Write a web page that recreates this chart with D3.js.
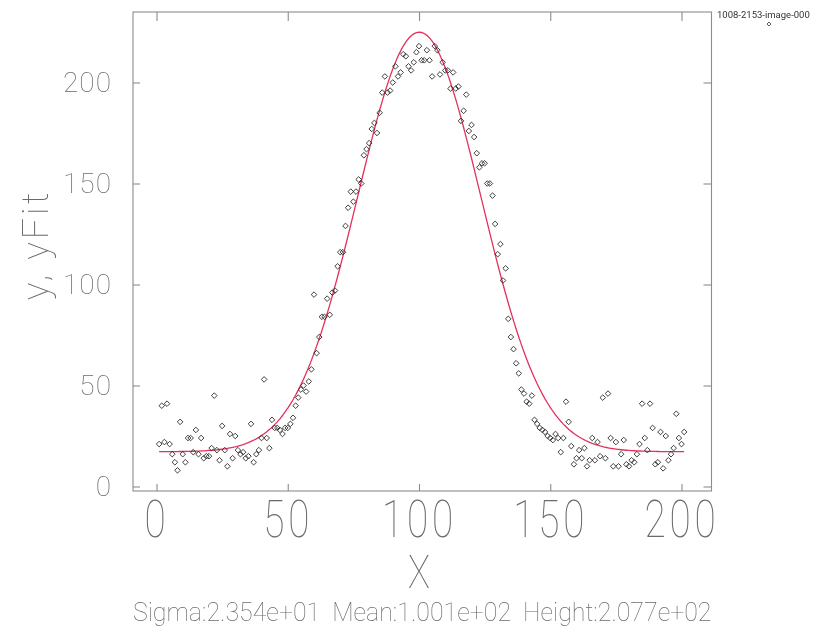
<!DOCTYPE html>
<html>
<head>
<meta charset="utf-8">
<script src="https://cdn.jsdelivr.net/npm/d3@7"></script>
<style>
  html, body { margin: 0; padding: 0; background: #ffffff; }
  svg { display: block; }
  .lbl { font-family: Roboto, "DejaVu Sans", sans-serif; font-weight: 100; fill: #6a6a6a; }
  /* neutral grey text, no coloured edge fringes */
  .txt { filter: grayscale(1); }
</style>
</head>
<body>
<svg id="chart" width="821" height="634"></svg>
<script>
// Observed counts, one per integer x starting at xFirst
const xFirst = 1;
const yObserved = [
  21, 40, 22, 41, 21, 16, 12,  8, 32, 16,
  12, 24, 24, 17, 28, 16, 24, 14, 15, 15,
  19, 45, 18, 13, 30, 18, 10, 26, 14, 25,
  18, 16, 17, 14, 15, 31, 12, 16, 18, 24,
  53, 24, 19, 33, 29, 29, 28, 26, 29, 29,
  31, 34, 40, 44, 48, 50, 47, 52, 58, 95,
  66, 74, 84, 84, 93, 85, 96, 97, 109, 116,
  116, 129, 138, 146, 141, 146, 152, 150, 164, 167,
  170, 177, 180, 175, 185, 195, 203, 195, 196, 200,
  208, 203, 205, 214, 213, 208, 206, 210, 215, 218,
  211, 211, 216, 211, 203, 218, 216, 204, 210, 206,
  206, 197, 205, 197, 198, 181, 186, 194, 176, 179,
  173, 165, 158, 160, 160, 150, 150, 144, 130, 115,
  120, 102, 108, 83, 74, 68, 61, 56, 48, 46,
  42, 41, 45, 33, 31, 29, 28, 27, 25, 24,
  23, 26, 24, 17, 24, 42, 32, 20, 11, 14,
  18, 14, 19, 10, 13, 24, 13, 22, 15, 44,
  14, 46, 24, 10, 22, 10, 16, 23, 11, 10,
  13, 12, 16, 21, 41, 24, 18, 41, 29, 11,
  12, 27, 9, 25, 13, 16, 19, 36, 24, 21,
  27
];

// Gaussian fit parameters (as printed under the chart) plus constant background
const fitSigma = 23.54;
const fitMean = 100.1;
const fitHeight = 207.7;
const fitBackground = 17.2;

const xTickValues = [0, 50, 100, 150, 200];
const yTickValues = [0, 50, 100, 150, 200];

const xTitle = "X";
const yTitle = "y, yFit";
const fitCaption = "Sigma:2.354e+01  Mean:1.001e+02  Height:2.077e+02";
const sourceTag = "1008-2153-image-000";

// ---- layout ----
const frame = { left: 133, right: 711.5, top: 12, bottom: 491 };
const axisGrey = "#8c8c8c";

const x = d3.scaleLinear().domain([0, 200]).range([156.5, 681.5]);
const y = d3.scaleLinear().domain([0, 200]).range([486.5, 82.5]);

const svg = d3.select("#chart");
svg.append("rect").attr("width", 821).attr("height", 634).attr("fill", "#ffffff");

const points = yObserved.map((v, i) => ({ x: xFirst + i, y: v }));
const gauss = xv => fitBackground + fitHeight * Math.exp(-((xv - fitMean) ** 2) / (2 * fitSigma * fitSigma));
const fitPoints = points.map(p => ({ x: p.x, y: gauss(p.x) }));

// plot frame
svg.append("rect")
  .attr("x", frame.left).attr("y", frame.top)
  .attr("width", frame.right - frame.left).attr("height", frame.bottom - frame.top)
  .attr("fill", "none").attr("stroke", axisGrey).attr("stroke-width", 1.1);

function styleAxis(g) {
  g.select(".domain").remove();
  g.selectAll(".tick line").attr("stroke", axisGrey).attr("stroke-width", 1.1);
}

// bottom axis with labels (tall, narrow vector-style digits)
const gx = svg.append("g")
  .attr("transform", `translate(0,${frame.bottom})`)
  .call(d3.axisBottom(x).tickValues(xTickValues).tickSize(-7).tickFormat(d3.format("d")))
  .call(styleAxis);
gx.selectAll(".tick text")
  .attr("class", "lbl txt")
  .attr("y", 46).attr("dy", 0)
  .attr("font-size", 51)
  .attr("transform", "scale(0.76,1)")
  .style("letter-spacing", "5px");

// top axis, ticks only
svg.append("g")
  .attr("transform", `translate(0,${frame.top})`)
  .call(d3.axisTop(x).tickValues(xTickValues).tickSize(-9).tickFormat(""))
  .call(styleAxis);

// left axis with labels
const gy = svg.append("g")
  .attr("transform", `translate(${frame.left},0)`)
  .call(d3.axisLeft(y).tickValues(yTickValues).tickSize(-7).tickFormat(d3.format("d")))
  .call(styleAxis);
gy.selectAll(".tick text")
  .attr("class", "lbl txt")
  .attr("x", -21).attr("dy", 0).attr("y", 9)
  .attr("font-size", 28)
  .style("letter-spacing", "1px");

// right axis, ticks only
svg.append("g")
  .attr("transform", `translate(${frame.right},0)`)
  .call(d3.axisRight(y).tickValues(yTickValues).tickSize(-8).tickFormat(""))
  .call(styleAxis);

// fitted curve
svg.append("path")
  .datum(fitPoints)
  .attr("fill", "none")
  .attr("stroke", "#e6305c")
  .attr("stroke-width", 1.3)
  .attr("d", d3.line().x(d => x(d.x)).y(d => y(d.y)));

// observed values as open diamonds
const diamond = "M0,-2.8L2.8,0L0,2.8L-2.8,0Z";
svg.append("g")
  .selectAll("path")
  .data(points)
  .join("path")
  .attr("d", diamond)
  .attr("transform", d => `translate(${x(d.x)},${y(d.y)})`)
  .attr("fill", "none")
  .attr("stroke", "#2a2a2a")
  .attr("stroke-width", 0.9);

// axis titles
svg.append("text")
  .attr("class", "lbl txt")
  .attr("transform", `translate(${x(100)},588) scale(0.8,1)`)
  .attr("text-anchor", "middle")
  .attr("font-size", 46)
  .text(xTitle);

svg.append("text")
  .attr("class", "lbl txt")
  .attr("transform", `translate(48,245) rotate(-90)`)
  .attr("text-anchor", "middle")
  .attr("font-size", 37)
  .style("letter-spacing", "3px")
  .text(yTitle);

// fit summary
svg.append("text")
  .attr("class", "lbl txt")
  .attr("x", frame.left).attr("y", 621)
  .attr("font-size", 26)
  .attr("textLength", frame.right - frame.left)
  .attr("lengthAdjust", "spacingAndGlyphs")
  .attr("xml:space", "preserve")
  .style("white-space", "pre")
  .text(fitCaption);

// source tag with its symbol
svg.append("text")
  .attr("class", "txt")
  .attr("x", 717).attr("y", 18)
  .attr("font-family", "Roboto, sans-serif")
  .attr("font-size", 9.5)
  .attr("fill", "#333")
  .text(sourceTag);
svg.append("path")
  .attr("d", "M0,-2L2,0L0,2L-2,0Z")
  .attr("transform", "translate(769,24)")
  .attr("fill", "none").attr("stroke", "#333").attr("stroke-width", 0.8);
</script>
</body>
</html>
